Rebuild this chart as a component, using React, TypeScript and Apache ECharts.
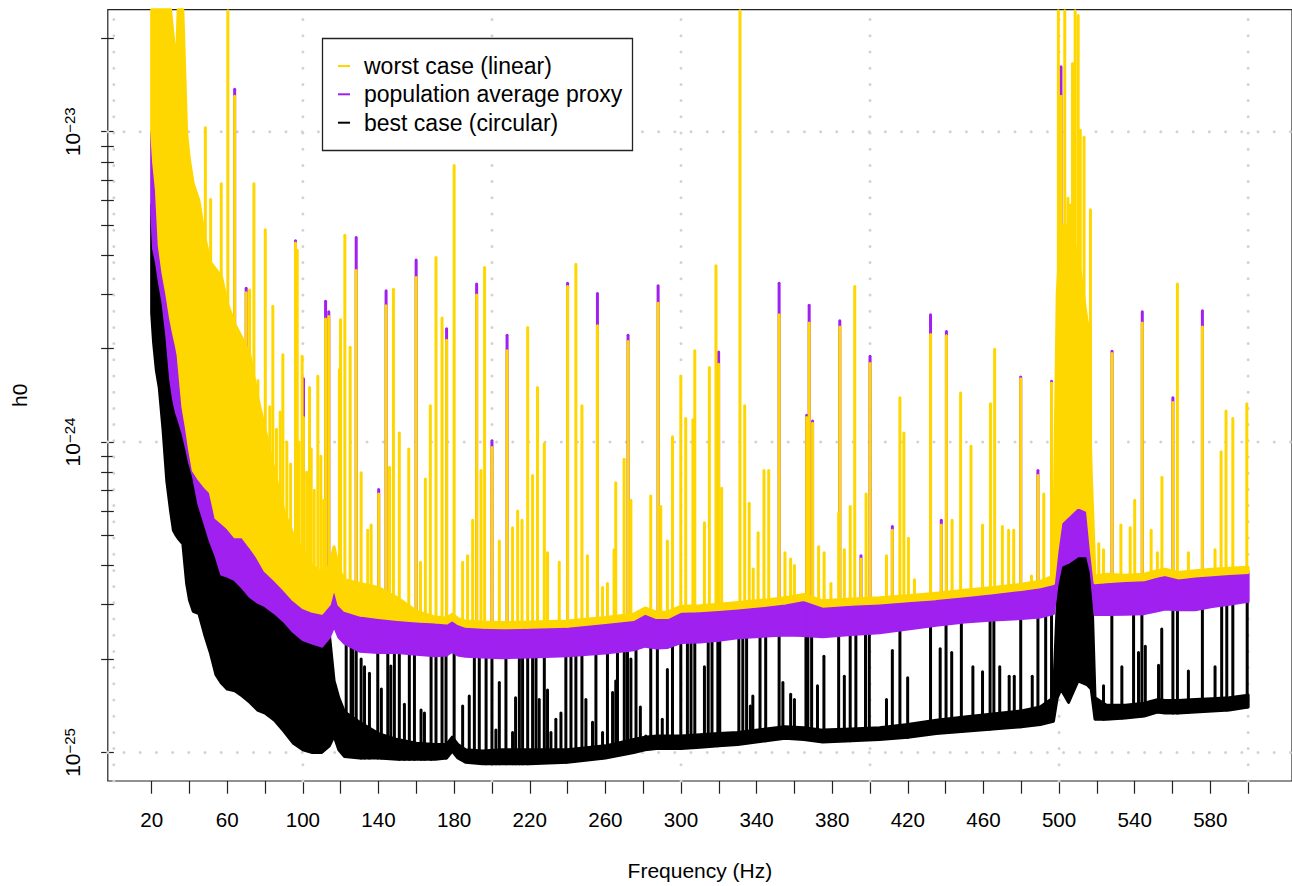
import React, { useEffect, useRef } from "react";
import * as echarts from "echarts";

// ---------- data ----------
const freqGrid = [20, 21, 22.5, 24, 26, 28, 30, 31.5, 33, 34, 36.5, 38.5, 40, 42, 45, 48, 51, 54, 57, 60, 64, 68, 72, 76, 80, 85, 90, 95, 100, 105, 110, 114, 116.5, 119, 122, 130, 140, 150, 160, 170, 176, 179, 182, 186, 195, 205, 220, 240, 260, 275, 281, 287, 293, 300, 310, 320, 330, 345, 355, 365, 375, 390, 405, 420, 435, 450, 465, 480, 490, 497, 499, 501, 505, 510, 515, 517, 519, 525, 535, 545, 552, 556, 563, 572, 581, 590, 600];

const blackLow = [2.6e-24, 2.1e-24, 1.7e-24, 1.5e-24, 1.1e-24, 7.5e-25, 6.0e-25, 5.2e-25, 5.0e-25, 4.9e-25, 4.7e-25, 3.5e-25, 3.1e-25, 2.85e-25, 2.8e-25, 2.4e-25, 2.1e-25, 1.78e-25, 1.67e-25, 1.6e-25, 1.58e-25, 1.52e-25, 1.45e-25, 1.37e-25, 1.34e-25, 1.27e-25, 1.17e-25, 1.07e-25, 1.02e-25, 1.0e-25, 1.0e-25, 1.05e-25, 1.13e-25, 1.02e-25, 9.7e-26, 9.6e-26, 9.6e-26, 9.5e-26, 9.5e-26, 9.5e-26, 9.6e-26, 1.01e-25, 9.6e-26, 9.3e-26, 9.2e-26, 9.2e-26, 9.2e-26, 9.3e-26, 9.6e-26, 1.0e-25, 1.02e-25, 1.03e-25, 1.03e-25, 1.03e-25, 1.04e-25, 1.05e-25, 1.06e-25, 1.09e-25, 1.11e-25, 1.1e-25, 1.08e-25, 1.09e-25, 1.1e-25, 1.12e-25, 1.15e-25, 1.17e-25, 1.19e-25, 1.21e-25, 1.23e-25, 1.26e-25, 1.5e-25, 1.6e-25, 1.45e-25, 1.7e-25, 1.65e-25, 1.6e-25, 1.28e-25, 1.28e-25, 1.29e-25, 1.31e-25, 1.35e-25, 1.34e-25, 1.34e-25, 1.35e-25, 1.36e-25, 1.37e-25, 1.4e-25];

const blackHigh = [5.8e-24, 4.4e-24, 4.0e-24, 3.5e-24, 2.9e-24, 2.3e-24, 1.7e-24, 1.45e-24, 1.3e-24, 1.26e-24, 1.12e-24, 1.0e-24, 9.0e-25, 8.2e-25, 6.6e-25, 5.8e-25, 5.0e-25, 4.5e-25, 3.9e-25, 3.9e-25, 3.8e-25, 3.6e-25, 3.3e-25, 3.2e-25, 3.1e-25, 2.95e-25, 2.8e-25, 2.6e-25, 2.45e-25, 2.35e-25, 2.3e-25, 2.4e-25, 1.7e-25, 1.5e-25, 1.35e-25, 1.25e-25, 1.15e-25, 1.1e-25, 1.07e-25, 1.06e-25, 1.06e-25, 1.12e-25, 1.06e-25, 1.02e-25, 1.01e-25, 1.02e-25, 1.02e-25, 1.02e-25, 1.05e-25, 1.1e-25, 1.12e-25, 1.13e-25, 1.13e-25, 1.13e-25, 1.14e-25, 1.15e-25, 1.16e-25, 1.19e-25, 1.21e-25, 1.2e-25, 1.18e-25, 1.19e-25, 1.2e-25, 1.23e-25, 1.27e-25, 1.3e-25, 1.33e-25, 1.36e-25, 1.4e-25, 1.5e-25, 3.0e-25, 4.0e-25, 4.0e-25, 4.3e-25, 4.3e-25, 3.8e-25, 1.5e-25, 1.42e-25, 1.42e-25, 1.44e-25, 1.48e-25, 1.47e-25, 1.47e-25, 1.48e-25, 1.49e-25, 1.5e-25, 1.53e-25];

const purpleLow = [5.5e-24, 4.2e-24, 3.8e-24, 3.3e-24, 2.8e-24, 2.2e-24, 1.6e-24, 1.38e-24, 1.25e-24, 1.2e-24, 1.07e-24, 9.5e-25, 8.6e-25, 7.8e-25, 6.3e-25, 5.5e-25, 4.8e-25, 4.3e-25, 3.75e-25, 3.7e-25, 3.6e-25, 3.4e-25, 3.18e-25, 3.05e-25, 2.97e-25, 2.82e-25, 2.65e-25, 2.45e-25, 2.31e-25, 2.25e-25, 2.2e-25, 2.35e-25, 2.56e-25, 2.35e-25, 2.25e-25, 2.12e-25, 2.1e-25, 2.1e-25, 2.07e-25, 2.05e-25, 2.06e-25, 2.12e-25, 2.06e-25, 2.04e-25, 2.03e-25, 2.02e-25, 2.03e-25, 2.05e-25, 2.09e-25, 2.14e-25, 2.2e-25, 2.17e-25, 2.18e-25, 2.26e-25, 2.27e-25, 2.3e-25, 2.34e-25, 2.37e-25, 2.39e-25, 2.38e-25, 2.36e-25, 2.4e-25, 2.43e-25, 2.5e-25, 2.57e-25, 2.63e-25, 2.67e-25, 2.7e-25, 2.73e-25, 2.8e-25, 3.5e-25, 4.0e-25, 4.1e-25, 4.3e-25, 4.3e-25, 3.8e-25, 2.78e-25, 2.78e-25, 2.79e-25, 2.8e-25, 2.86e-25, 2.9e-25, 2.88e-25, 2.88e-25, 2.95e-25, 3.0e-25, 3.07e-25];

const yellowLow = [1.0e-23, 8.0e-24, 6.5e-24, 4.3e-24, 3.5e-24, 3.0e-24, 2.5e-24, 2.25e-24, 2.05e-24, 1.9e-24, 1.3e-24, 1.1e-24, 9.5e-25, 8.1e-25, 7.6e-25, 7.2e-25, 6.9e-25, 5.7e-25, 5.5e-25, 5.3e-25, 4.95e-25, 4.95e-25, 4.6e-25, 4.25e-25, 3.85e-25, 3.6e-25, 3.35e-25, 3.1e-25, 2.93e-25, 2.85e-25, 2.81e-25, 3.0e-25, 3.43e-25, 3.0e-25, 2.87e-25, 2.77e-25, 2.72e-25, 2.68e-25, 2.65e-25, 2.63e-25, 2.61e-25, 2.68e-25, 2.6e-25, 2.55e-25, 2.53e-25, 2.52e-25, 2.53e-25, 2.55e-25, 2.62e-25, 2.68e-25, 2.81e-25, 2.72e-25, 2.72e-25, 2.85e-25, 2.86e-25, 2.89e-25, 2.92e-25, 2.98e-25, 3.03e-25, 3.11e-25, 2.96e-25, 3.0e-25, 3.03e-25, 3.08e-25, 3.13e-25, 3.2e-25, 3.27e-25, 3.35e-25, 3.42e-25, 3.5e-25, 4.5e-25, 5.5e-25, 5.8e-25, 6.2e-25, 6.0e-25, 4.5e-25, 3.52e-25, 3.55e-25, 3.58e-25, 3.6e-25, 3.7e-25, 3.74e-25, 3.65e-25, 3.7e-25, 3.74e-25, 3.77e-25, 3.8e-25];

const yellowHigh = [3e-23, 3e-23, 3e-23, 3e-23, 3e-23, 3e-23, 3e-23, 2.0e-23, 1.6e-23, 3e-23, 3e-23, 9.9e-24, 8.1e-24, 6.8e-24, 6.0e-24, 4.6e-24, 3.8e-24, 3.6e-24, 3.4e-24, 2.8e-24, 2.4e-24, 2.15e-24, 1.9e-24, 1.4e-24, 1.1e-24, 8.0e-25, 6.0e-25, 5.0e-25, 4.5e-25, 4.0e-25, 3.8e-25, 4.0e-25, 4.6e-25, 3.9e-25, 3.6e-25, 3.5e-25, 3.4e-25, 3.15e-25, 2.85e-25, 2.73e-25, 2.71e-25, 2.79e-25, 2.7e-25, 2.65e-25, 2.63e-25, 2.62e-25, 2.63e-25, 2.65e-25, 2.72e-25, 2.79e-25, 2.92e-25, 2.83e-25, 2.83e-25, 2.96e-25, 2.97e-25, 3.0e-25, 3.04e-25, 3.1e-25, 3.15e-25, 3.23e-25, 3.08e-25, 3.12e-25, 3.15e-25, 3.2e-25, 3.26e-25, 3.33e-25, 3.4e-25, 3.48e-25, 3.56e-25, 3.7e-25, 3.0e-24, 5.0e-24, 5.0e-24, 4.0e-24, 2.4e-24, 8.0e-25, 3.7e-25, 3.75e-25, 3.72e-25, 3.75e-25, 3.85e-25, 3.89e-25, 3.8e-25, 3.85e-25, 3.89e-25, 3.92e-25, 3.95e-25];

// narrow lines: [frequency (Hz), peak h0]
const yellowSpikes: [number, number][] = [
  [48.4, 1.03e-23], [51.2, 6.05e-24], [56.8, 6.8e-24], [60.3, 5e-23], [63.9, 1.3e-23], [70.0, 3.03e-24], [71.8, 3.09e-24], [74.1, 6.8e-24], [76.2, 1.58e-24], [80.1, 4.83e-24],
  [82.5, 1.3e-24], [84.1, 2.74e-24], [86.0, 1.1e-24], [88.0, 1.25e-24], [89.4, 1.91e-24], [91.5, 1.0e-24], [93.5, 8.5e-25], [96.1, 4.38e-24], [97.0, 4.15e-24], [98.0, 1.0e-24],
  [99.6, 1.89e-24], [100.3, 1.2e-24], [102.0, 8.0e-25], [103.5, 1.5e-24], [104.4, 9.5e-25], [106.0, 7.0e-25], [107.9, 1.63e-24], [109.5, 9.0e-25], [111.0, 6.5e-25], [112.0, 2.49e-24],
  [113.7, 2.54e-24], [119.3, 1.71e-24], [119.9, 2.48e-24], [122.2, 4.64e-24], [125.0, 2.02e-24], [128.2, 3.57e-24], [130.8, 7.96e-25], [134.3, 5.2e-25], [136.1, 5.4e-25], [140.1, 6.8e-25],
  [144.0, 2.75e-24], [145.8, 8.3e-25], [147.9, 3.11e-24], [151.0, 1.07e-24], [156.0, 9.5e-25], [159.9, 3.39e-24], [162.2, 4.1e-25], [164.8, 7.6e-25], [167.4, 1.31e-24], [170.4, 3.93e-24],
  [173.6, 2.51e-24], [176.0, 2.13e-24], [180.0, 7.78e-24], [184.5, 4.1e-25], [187.1, 4.3e-25], [189.8, 5.6e-25], [191.9, 2.98e-24], [194.2, 8.1e-25], [196.1, 3.65e-24], [200.0, 9.6e-25],
  [203.9, 4.8e-25], [208.0, 1.97e-24], [210.9, 5.3e-25], [213.6, 6.0e-25], [215.9, 5.6e-25], [218.9, 2.34e-24], [221.5, 7.8e-25], [224.1, 1.5e-24], [227.7, 9.9e-25], [229.4, 4.4e-25],
  [235.6, 4.1e-25], [240.0, 3.17e-24], [244.4, 3.74e-24], [247.6, 1.31e-24], [250.5, 4.3e-25], [255.8, 2.37e-24], [258.5, 3.4e-25], [261.1, 3.5e-25], [264.6, 4.5e-25], [265.5, 7.4e-25],
  [269.9, 8.8e-25], [272.0, 2.11e-24], [273.5, 6.5e-25], [284.0, 6.7e-25], [287.9, 2.8e-24], [289.3, 6.2e-25], [292.8, 4.8e-25], [295.5, 1.04e-24], [299.9, 1.63e-24], [302.5, 1.19e-24],
  [306.3, 1.18e-24], [307.3, 1.97e-24], [312.4, 5.5e-25], [315.0, 1.74e-24], [318.5, 3.7e-24], [319.9, 1.78e-24], [321.5, 7.1e-25], [331.2, 5e-23], [333.7, 1.31e-24], [336.1, 6.35e-25],
  [338.2, 3.9e-25], [340.8, 5.1e-25], [343.9, 8.1e-25], [346.4, 8.1e-25], [351.9, 2.57e-24], [355.0, 4.4e-25], [358.0, 4.2e-25], [360.0, 4.0e-25], [366.5, 1.2e-24], [367.8, 2.42e-24],
  [369.6, 1.15e-24], [372.8, 4.6e-25], [375.7, 4.4e-25], [379.3, 3.5e-25], [383.4, 5.9e-25], [384.0, 2.35e-24], [386.4, 4.5e-25], [389.5, 6.2e-25], [391.9, 3.17e-24], [395.2, 4.2e-25],
  [397.9, 6.8e-25], [400.0, 1.79e-24], [408.7, 4.3e-25], [411.8, 5.2e-25], [415.8, 1.39e-24], [417.9, 1.07e-24], [420.3, 4.9e-25], [423.5, 3.6e-25], [432.0, 2.22e-24], [437.7, 5.4e-25],
  [440.4, 2.2e-24], [443.4, 5.6e-25], [447.9, 1.44e-24], [453.4, 9.7e-25], [459.5, 5.4e-25], [463.7, 1.33e-24], [465.9, 1.99e-24], [470.0, 5.35e-25], [473.3, 5.2e-25], [476.0, 5.2e-25],
  [479.7, 1.6e-24], [485.4, 3.7e-25], [488.8, 7.8e-25], [491.9, 6.8e-25], [496.0, 1.55e-24], [499.6, 5e-23], [501.0, 1.3e-23], [503.0, 5e-23], [504.7, 6.1e-24], [506.0, 5.8e-24],
  [507.1, 1.66e-23], [508.5, 5e-23], [510.1, 2.37e-23], [511.2, 1.01e-23], [513.2, 9.6e-24], [514.8, 2.43e-24], [516.6, 5.6e-24], [521.0, 4.7e-25], [523.5, 4.5e-25], [528.0, 1.93e-24],
  [532.7, 5.4e-25], [537.6, 5.3e-25], [540.0, 6.5e-25], [544.0, 2.42e-24], [548.7, 5.2e-25], [552.0, 4.4e-25], [554.4, 7.7e-25], [560.2, 1.34e-24], [562.6, 3.23e-24], [568.4, 4.4e-25],
  [575.8, 2.35e-24], [582.5, 4.5e-25], [585.7, 9.3e-25], [588.3, 1.26e-24], [591.9, 1.19e-24], [599.3, 1.33e-24],
];

const purpleSpikes: [number, number][] = [
  [63.9, 1.37e-23], [70.0, 3.13e-24], [96.1, 4.45e-24], [100.3, 1.6e-24], [112.0, 2.84e-24], [113.7, 2.63e-24], [128.2, 4.56e-24], [140.1, 7.03e-25], [144.0, 3.07e-24], [159.9, 3.86e-24],
  [176.0, 2.32e-24], [191.9, 3.23e-24], [200.0, 1.01e-24], [208.0, 2.21e-24], [240.0, 3.25e-24], [255.8, 3.01e-24], [272.0, 2.21e-24], [287.9, 3.19e-24], [319.9, 1.95e-24], [351.9, 3.25e-24],
  [366.5, 1.22e-24], [367.8, 2.76e-24], [369.6, 1.17e-24], [384.0, 2.46e-24], [395.2, 4.3e-25], [400.0, 1.89e-24], [411.8, 5.35e-25], [432.0, 2.57e-24], [437.7, 5.6e-25], [440.4, 2.27e-24],
  [479.7, 1.62e-24], [488.8, 8.1e-25], [496.0, 1.57e-24], [501.0, 1.62e-23], [528.0, 1.96e-24], [544.0, 2.63e-24], [560.2, 1.39e-24], [575.8, 2.65e-24],
];

const blackSpikes: [number, number][] = [
  [122.9, 2.35e-25], [125.5, 2.35e-25], [126.4, 2.35e-25], [128.2, 2.35e-25], [130.8, 2.0e-25], [132.6, 1.89e-25], [135.2, 1.8e-25], [139.6, 2.35e-25], [141.5, 1.6e-25], [144.9, 2.35e-25],
  [146.5, 1.9e-25], [148.4, 2.35e-25], [151.0, 2.35e-25], [153.7, 1.43e-25], [156.3, 2.35e-25], [159.0, 2.35e-25], [162.5, 1.37e-25], [164.3, 1.34e-25], [167.8, 2.35e-25], [170.4, 2.35e-25],
  [173.6, 2.35e-25], [175.7, 2.35e-25], [180.0, 2.35e-25], [184.5, 1.41e-25], [188.0, 1.52e-25], [190.7, 2.35e-25], [193.3, 2.35e-25], [196.9, 2.35e-25], [200.0, 2.35e-25], [202.1, 1.18e-25],
  [203.9, 1.68e-25], [207.4, 2.35e-25], [210.9, 1.16e-25], [212.5, 1.5e-25], [214.5, 2.35e-25], [216.2, 2.35e-25], [218.9, 2.35e-25], [221.5, 2.35e-25], [223.3, 2.35e-25], [225.0, 1.48e-25],
  [227.7, 2.35e-25], [229.4, 1.59e-25], [231.2, 1.16e-25], [233.8, 1.28e-25], [236.5, 1.34e-25], [239.1, 2.35e-25], [241.8, 2.35e-25], [244.4, 2.35e-25], [247.6, 2.35e-25], [249.7, 1.48e-25],
  [253.2, 1.25e-25], [255.0, 2.35e-25], [258.5, 1.16e-25], [261.1, 2.35e-25], [263.8, 1.56e-25], [265.5, 1.7e-25], [266.4, 2.35e-25], [270.0, 2.35e-25], [271.7, 2.35e-25], [273.5, 2.0e-25],
  [276.2, 2.35e-25], [278.5, 1.4e-25], [281.4, 1.13e-25], [284.0, 2.35e-25], [287.5, 2.35e-25], [290.1, 1.28e-25], [292.8, 1.85e-25], [295.5, 2.35e-25], [299.9, 2.35e-25], [303.4, 2.6e-25],
  [305.3, 2.6e-25], [307.3, 2.6e-25], [312.4, 1.89e-25], [314.4, 2.6e-25], [316.4, 2.6e-25], [319.5, 2.6e-25], [320.5, 2.6e-25], [330.6, 2.6e-25], [332.7, 2.6e-25], [334.7, 2.6e-25],
  [336.7, 1.41e-25], [338.0, 1.52e-25], [341.8, 2.6e-25], [344.8, 2.6e-25], [351.9, 2.6e-25], [353.9, 1.68e-25], [358.0, 1.54e-25], [360.0, 1.48e-25], [366.1, 2.6e-25], [367.1, 2.6e-25],
  [369.1, 2.6e-25], [372.2, 1.64e-25], [375.6, 2.04e-25], [383.4, 2.6e-25], [386.4, 1.76e-25], [389.5, 2.6e-25], [392.5, 2.6e-25], [397.6, 2.6e-25], [399.6, 2.6e-25], [408.7, 1.48e-25],
  [411.8, 2.13e-25], [415.8, 2.8e-25], [419.9, 1.74e-25], [432.0, 2.8e-25], [437.1, 2.16e-25], [440.2, 2.8e-25], [443.2, 2.1e-25], [448.3, 2.8e-25], [454.4, 1.89e-25], [459.5, 1.82e-25],
  [463.5, 3.0e-25], [465.5, 3.0e-25], [468.6, 1.89e-25], [473.6, 1.76e-25], [476.3, 1.76e-25], [479.7, 3.0e-25], [485.8, 1.76e-25], [488.8, 3.0e-25], [492.9, 3.0e-25], [496.0, 3.0e-25],
  [523.5, 1.64e-25], [527.9, 3.3e-25], [533.2, 1.89e-25], [539.4, 3.3e-25], [542.0, 2.1e-25], [543.8, 3.3e-25], [545.6, 2.2e-25], [552.6, 1.91e-25], [554.3, 2.5e-25], [560.2, 3.3e-25],
  [562.6, 3.3e-25], [568.4, 1.83e-25], [575.8, 3.3e-25], [582.5, 1.89e-25], [586.0, 3.3e-25], [588.7, 3.3e-25], [591.9, 3.3e-25], [599.5, 3.3e-25],
];

const xTickValues = [20, 40, 60, 80, 100, 120, 140, 160, 180, 200, 220, 240, 260, 280, 300, 320, 340, 360, 380, 400, 420, 440, 460, 480, 500, 520, 540, 560, 580, 600];
const xLabelValues = [20, 60, 100, 140, 180, 220, 260, 300, 340, 380, 420, 460, 500, 540, 580];
const xGridValues = [0, 100, 200, 300, 400, 500, 600];
const yTickValues = [1e-25, 2e-25, 3e-25, 4e-25, 5e-25, 6e-25, 7e-25, 8e-25, 9e-25, 1e-24, 2e-24, 3e-24, 4e-24, 5e-24, 6e-24, 7e-24, 8e-24, 9e-24, 1e-23, 2e-23];
const yLabelValues = [1e-25, 1e-24, 1e-23];
const xLimits = [20, 600];
const yLimits = [1e-25, 2e-23];

const legendLabels = ["worst case (linear)", "population average proxy", "best case (circular)"];
const seriesColors = ["#FFD700", "#A020F0", "#000000"];

// ---------- helpers ----------
const FONT = '"Liberation Sans", Arial, Helvetica, sans-serif';
const lg = (v: number) => Math.log10(v);
const xPad = 0.04 * (xLimits[1] - xLimits[0]);
const X_MIN = xLimits[0] - xPad;
const X_MAX = xLimits[1] + xPad;
const yPad = 0.04 * (lg(yLimits[1]) - lg(yLimits[0]));
const Y_MIN = lg(yLimits[0]) - yPad;
const Y_MAX = lg(yLimits[1]) + yPad;

function floorAt(f: number, arr: number[]): number {
  for (let i = 0; i < freqGrid.length - 1; i++) {
    if (f >= freqGrid[i] && f <= freqGrid[i + 1]) return Math.max(arr[i], arr[i + 1]);
  }
  return arr[arr.length - 1];
}

function bandSeries(name: string, color: string, low: number[], high: number[], z: number) {
  const data = freqGrid.map((f, i) => [f, lg(low[i]), lg(high[i])]);
  return {
    type: "custom",
    name,
    z,
    silent: true,
    data,
    encode: { x: 0, y: [1, 2] },
    renderItem: (params: any, api: any) => {
      if (params.dataIndex !== 0) return null;
      const cs = params.coordSys;
      const top = cs.y;
      const bottom = cs.y + cs.height;
      const cl = (y: number) => Math.min(bottom, Math.max(top, y));
      const upper: number[][] = [];
      const lower: number[][] = [];
      for (let j = 0; j < data.length; j++) {
        const ph = api.coord([data[j][0], data[j][2]]);
        const pl = api.coord([data[j][0], data[j][1]]);
        upper.push([ph[0], cl(ph[1])]);
        lower.push([pl[0], cl(pl[1])]);
      }
      const points = upper.concat(lower.reverse());
      return {
        type: "polygon",
        shape: { points },
        style: { fill: color, stroke: color, lineWidth: 3, lineJoin: "round" },
      };
    },
  };
}

function spikeSeries(name: string, color: string, spikes: [number, number][], base: number[], z: number) {
  const data = spikes.map(([f, p]) => [f, lg(floorAt(f, base)), lg(p)]);
  return {
    type: "custom",
    name,
    z,
    silent: true,
    data,
    encode: { x: 0, y: [1, 2] },
    renderItem: (params: any, api: any) => {
      const cs = params.coordSys;
      const top = cs.y + 1;
      const bottom = cs.y + cs.height;
      const cl = (y: number) => Math.min(bottom, Math.max(top, y));
      const p0 = api.coord([api.value(0), api.value(1)]);
      const p1 = api.coord([api.value(0), api.value(2)]);
      return {
        type: "line",
        shape: { x1: p0[0], y1: cl(p0[1]), x2: p1[0], y2: cl(p1[1]) },
        style: { stroke: color, lineWidth: 3, lineCap: "round" },
      };
    },
  };
}

function gridSeries() {
  const vData = xGridValues.map((v) => [v, Y_MIN, 0]);
  const hData = yLabelValues.map((v) => [X_MIN, lg(v), 1]);
  return {
    type: "custom",
    z: 1,
    silent: true,
    data: vData.concat(hData),
    encode: { x: 0, y: 1 },
    renderItem: (params: any, api: any) => {
      const cs = params.coordSys;
      const p = api.coord([api.value(0), api.value(1)]);
      const vertical = api.value(2) === 0;
      const shape = vertical
        ? { x1: p[0], y1: cs.y + cs.height, x2: p[0], y2: cs.y }
        : { x1: cs.x, y1: p[1], x2: cs.x + cs.width, y2: p[1] };
      return {
        type: "line",
        shape,
        style: { stroke: "#d3d3d3", lineWidth: 3, lineDash: [0, 16.2], lineCap: "round" },
      };
    },
  };
}

const legendRowsY = [66, 94.3, 122.7];

const option: any = {
  animation: false,
  backgroundColor: "#ffffff",
  grid: {
    left: 107.8,
    top: 9.7,
    width: 1185.8,
    height: 772,
    show: true,
    borderColor: "#222",
    borderWidth: 1.2,
    backgroundColor: "transparent",
    containLabel: false,
  },
  xAxis: {
    type: "value",
    min: X_MIN,
    max: X_MAX,
    axisLine: { show: false },
    splitLine: { show: false },
    axisTick: { show: true, length: 12.7, customValues: xTickValues, lineStyle: { color: "#222", width: 1.2 } },
    axisLabel: { customValues: xLabelValues, margin: 28, fontSize: 20.6, color: "#000", fontFamily: FONT },
    name: "Frequency (Hz)",
    nameLocation: "middle",
    nameGap: 79,
    nameTextStyle: { fontSize: 21, color: "#000", fontFamily: FONT },
  },
  yAxis: {
    type: "value",
    min: Y_MIN,
    max: Y_MAX,
    axisLine: { show: false },
    splitLine: { show: false },
    axisTick: { show: true, length: 12.7, customValues: yTickValues.map(lg), lineStyle: { color: "#222", width: 1.2 } },
    axisLabel: {
      customValues: yLabelValues.map(lg),
      rotate: 90,
      margin: 25,
      color: "#000",
      fontFamily: FONT,
      formatter: (v: number) => `{b|10}{s|\u2212${Math.abs(Math.round(v))}}`,
      rich: {
        b: { fontSize: 21, fontFamily: FONT, color: "#000", verticalAlign: "bottom" },
        s: { fontSize: 15, fontFamily: FONT, color: "#000", verticalAlign: "top" },
      },
    },
    name: "h0",
    nameLocation: "middle",
    nameGap: 78,
    nameTextStyle: { fontSize: 21, color: "#000", fontFamily: FONT },
  },
  series: [
    gridSeries(),
    bandSeries(legendLabels[2], seriesColors[2], blackLow, blackHigh, 2),
    spikeSeries(legendLabels[2], seriesColors[2], blackSpikes, blackLow, 3),
    bandSeries(legendLabels[1], seriesColors[1], purpleLow, yellowLow, 4),
    spikeSeries(legendLabels[1], seriesColors[1], purpleSpikes, purpleLow, 5),
    bandSeries(legendLabels[0], seriesColors[0], yellowLow, yellowHigh, 6),
    spikeSeries(legendLabels[0], seriesColors[0], yellowSpikes, yellowLow, 7),
  ],
  graphic: [
    {
      type: "rect",
      z: 100,
      shape: { x: 322.5, y: 38.5, width: 310, height: 112 },
      style: { fill: "#fff", stroke: "#222", lineWidth: 1.3 },
    },
    ...legendLabels.flatMap((label, i) => [
      {
        type: "line",
        z: 101,
        shape: { x1: 338, y1: legendRowsY[i], x2: 350, y2: legendRowsY[i] },
        style: { stroke: seriesColors[i], lineWidth: 2 },
      },
      {
        type: "text",
        z: 101,
        x: 364,
        y: legendRowsY[i],
        style: { text: label, fontSize: 23, fontFamily: FONT, fill: "#000", verticalAlign: "middle", align: "left" },
      },
    ]),
  ],
};

export default function App() {
  const ref = useRef<HTMLDivElement>(null);
  useEffect(() => {
    if (!ref.current) return;
    const chart = echarts.init(ref.current, null, { renderer: "svg" });
    chart.setOption(option);
    return () => chart.dispose();
  }, []);
  return (
    <div
      ref={ref}
      style={{ position: "fixed", left: 0, top: 0, width: 1292, height: 886, background: "#fff" }}
    />
  );
}
